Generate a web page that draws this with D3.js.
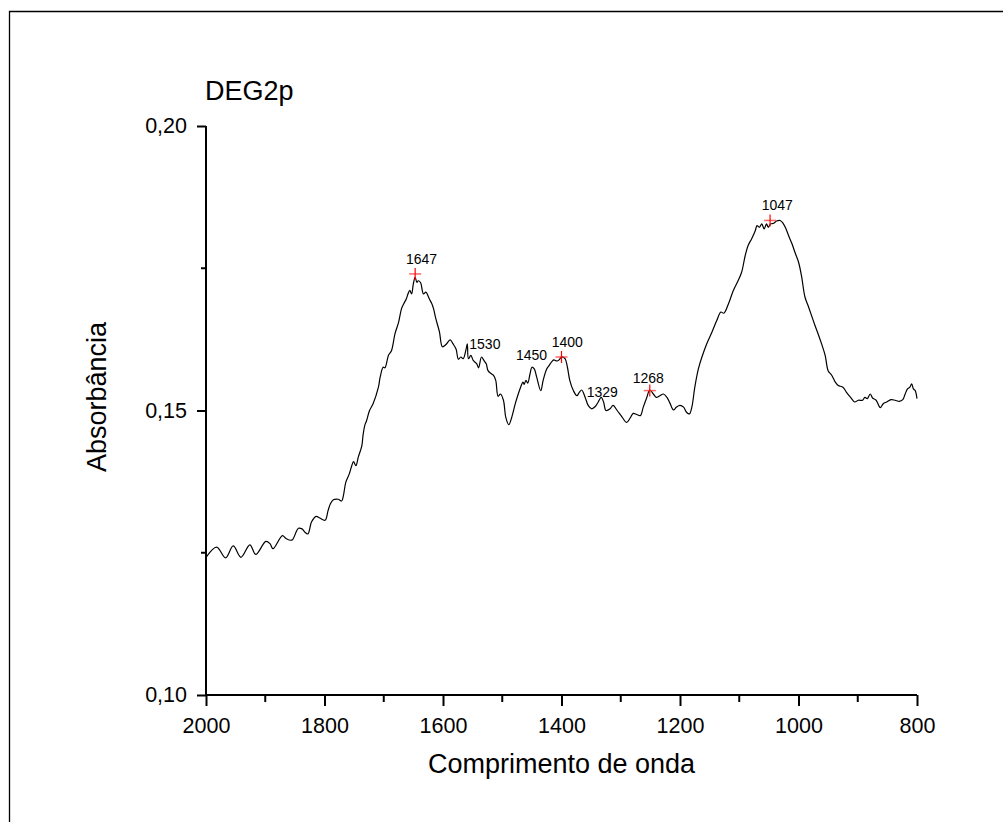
<!DOCTYPE html>
<html>
<head>
<meta charset="utf-8">
<script src="https://cdn.jsdelivr.net/npm/d3@7/dist/d3.min.js"></script>
<style>
  html, body { margin: 0; padding: 0; background: #fff; }
  svg { display: block; font-family: "Liberation Sans", Arial, sans-serif; }
</style>
</head>
<body>
<svg id="chart" width="1003" height="822"></svg>
<script>
// ---- data ----
const title = "DEG2p";
const xTitle = "Comprimento de onda";
const yTitle = "Absorbância";

const wavenumber = [
2000,1982,1967,1954,1941,1926,1916,1899,1892,1887,1871,1865,1858,1854,1844,1838,1833,1828,1822,1814,1808,1799,1794,1790,1785,1777,1771,1768,1764,1758,1754,1751,1747,1743,1737,1735,1732,1729,1724,1718,1709,
1706,1701,1698,1692,1687,1681,1675,1670,1666,1662,1659,1656,1653,1650,1647,1644,1642,1638,1633,1629,1623,1619,1616,1612,1606,1601,1595,1588,1583,1578,1574,1570,1566,1561,1559,1557,1553,1549,1543,1540,1535,1531,1527,1524,1519,1515,1511,1507,1503,1498,1494,1489,1484,1478,1473,1469,1465,1463,1460,1457,1453,1450,1446,
1442,1435,1431,1425,1421,1417,1413,1408,1404,1400,1394,1390,1386,1380,1374,1370,1366,1360,1355,1349,1343,1338,1333,1329,1325,1318,1313,1306,1298,1290,1284,1279,1273,1267,1262,1256,1251,1245,1240,1234,1228,1222,1217,1211,1206,1200,1194,1189,1184,
1180,1175,1169,1163,1155,1146,1138,1131,1126,1118,1110,1102,1096,1090,1085,1079,1073,1070,1066,1062,1058,1054,1051,1047,1042,1037,1031,1026,1021,1017,1011,1006,1000,995,989,983,978,972,967,961,955,950,944,938,933,925,919,912,905,899,892,888,884,879,875,869,862,857,851,844,837,830,824,820,816,812,809,806,803,800
];
const absorbance = [
0.1242,0.1260,0.1241,0.1262,0.1242,0.1264,0.1247,0.1270,0.1266,0.1257,0.1280,0.1275,0.1272,0.1273,0.1293,0.1292,0.1286,0.1283,0.1304,0.1314,0.1311,0.1307,0.1324,0.1336,0.1343,0.1344,0.1341,0.1351,0.1374,0.1389,0.1403,0.1410,0.1403,0.1418,0.1438,0.1456,0.1474,0.1482,0.1500,0.1512,0.1541,
0.1559,0.1576,0.1575,0.1597,0.1605,0.1635,0.1655,0.1679,0.1688,0.1696,0.1705,0.1711,0.1705,0.1723,0.1734,0.1725,0.1728,0.1725,0.1705,0.1708,0.1696,0.1688,0.1679,0.1661,0.1638,0.1612,0.1616,0.1624,0.1617,0.1608,0.1590,0.1594,0.1591,0.1608,0.1617,0.1591,0.1597,0.1588,0.1582,0.1575,0.1594,0.1588,0.1582,0.1570,0.1565,0.1562,0.1553,0.1525,0.1529,0.1518,0.1488,0.1475,0.1488,0.1512,0.1529,0.1541,0.1550,0.1546,0.1553,0.1548,0.1565,0.1576,0.1573,
0.1559,0.1535,0.1553,0.1573,0.1579,0.1585,0.1589,0.1587,0.1589,0.1594,0.1591,0.1576,0.1553,0.1535,0.1526,0.1532,0.1536,0.1523,0.1509,0.1503,0.1507,0.1515,0.1523,0.1515,0.1500,0.1503,0.1509,0.1500,0.1489,0.1479,0.1487,0.1495,0.1493,0.1491,0.1506,0.1523,0.1536,0.1529,0.1523,0.1526,0.1529,0.1523,0.1513,0.1501,0.1506,0.1509,0.1506,0.1497,0.1494,
0.1506,0.1541,0.1573,0.1594,0.1617,0.1638,0.1658,0.1673,0.1671,0.1688,0.1711,0.1728,0.1743,0.1772,0.1790,0.1802,0.1816,0.1825,0.1822,0.1828,0.1819,0.1828,0.1822,0.1828,0.1829,0.1833,0.1834,0.1829,0.1819,0.1808,0.1793,0.1778,0.1761,0.1737,0.1699,0.1682,0.1667,0.1649,0.1635,0.1617,0.1597,0.1570,0.1562,0.1550,0.1544,0.1541,0.1532,0.1523,0.1515,0.1518,0.1518,0.1523,0.1521,0.1529,0.1522,0.1518,0.1505,0.1512,0.1515,0.1519,0.1518,0.1516,0.1519,0.1529,0.1538,0.1541,0.1547,0.1538,0.1535,0.1521
];

// peak markers (red crosses)
const markerWn  = [1647, 1400, 1251, 1048];
const markerAbs = [0.1740, 0.1594, 0.1535, 0.1834];

// peak annotation labels (text start, baseline in data coords)
const labelText = ["1647", "1530", "1450", "1400", "1329", "1268", "1047"];
const labelWn   = [1662.4, 1555.6, 1476.8, 1416.5, 1357.5, 1279.8, 1062.1];
const labelAbs  = [0.17566, 0.16084, 0.15879, 0.16116, 0.15234, 0.15480, 0.18515];

const xDomain = [2000, 800];
const yDomain = [0.10, 0.20];
const xMajorTicks = [2000, 1800, 1600, 1400, 1200, 1000, 800];
const xMinorTicks = [1900, 1700, 1500, 1300, 1100, 900];
const yMajorTicks = [0.10, 0.15, 0.20];
const yMinorTicks = [0.125, 0.175];

// ---- layout ----
(function () {
const svg = d3.select("#chart");
const pLeft = 206, pRight = 917, pTop = 126, pBottom = 695;

const x = d3.scaleLinear().domain(xDomain).range([pLeft, pRight]);
const y = d3.scaleLinear().domain(yDomain).range([pBottom, pTop]);

// outer frame (right & bottom edges fall outside the picture)
svg.append("path")
  .attr("d", "M9.5,830 V11.5 H1010")
  .attr("fill", "none").attr("stroke", "#000").attr("stroke-width", 1.3);

const fmt = v => d3.format(".2f")(v).replace(".", ",");
const FF = "Liberation Sans, Arial, sans-serif";

// X axis
const gx = svg.append("g").attr("transform", `translate(0,${pBottom})`);
gx.call(d3.axisBottom(x).tickValues(xMajorTicks).tickSize(11).tickPadding(12).tickFormat(d3.format("d")))
  .call(g => g.select(".domain").attr("stroke-width", 2).attr("d", `M${pLeft},0H${pRight}`))
  .call(g => g.selectAll(".tick line").attr("stroke-width", 2))
  .call(g => g.selectAll(".tick text").attr("font-size", 21.5).attr("fill", "#000").attr("font-family", FF));
gx.selectAll(".minor").data(xMinorTicks).enter().append("line")
  .attr("class", "minor")
  .attr("x1", d => x(d)).attr("x2", d => x(d))
  .attr("y1", 0).attr("y2", 7)
  .attr("stroke", "#000").attr("stroke-width", 2);

// Y axis
const gy = svg.append("g").attr("transform", `translate(${pLeft},0)`);
gy.call(d3.axisLeft(y).tickValues(yMajorTicks).tickSize(9).tickPadding(10).tickFormat(fmt))
  .call(g => g.select(".domain").attr("stroke-width", 2).attr("d", `M0,${pBottom}V${pTop}`))
  .call(g => g.selectAll(".tick line").attr("stroke-width", 2))
  .call(g => g.selectAll(".tick text").attr("font-size", 21.5).attr("fill", "#000").attr("font-family", FF));
gy.selectAll(".minor").data(yMinorTicks).enter().append("line")
  .attr("class", "minor")
  .attr("x1", 0).attr("x2", -5)
  .attr("y1", d => y(d)).attr("y2", d => y(d))
  .attr("stroke", "#000").attr("stroke-width", 2);

// Titles
svg.append("text").attr("x", pLeft - 1).attr("y", 100)
  .attr("font-size", 27).attr("fill", "#000").text(title);
svg.append("text").attr("x", (pLeft + pRight) / 2).attr("y", 773)
  .attr("text-anchor", "middle").attr("font-size", 27).attr("fill", "#000").text(xTitle);
svg.append("text").attr("transform", "translate(106,397) rotate(-90)")
  .attr("text-anchor", "middle").attr("font-size", 27).attr("fill", "#000").text(yTitle);

// Spectrum line
const n = Math.min(wavenumber.length, absorbance.length);
const pts = d3.range(n).map(i => [wavenumber[i], absorbance[i]]);
const line = d3.line().x(d => x(d[0])).y(d => y(d[1])).curve(d3.curveCatmullRom.alpha(0.5));
svg.append("path").datum(pts).attr("d", line)
  .attr("fill", "none").attr("stroke", "#000").attr("stroke-width", 1.2);

// Markers
const mk = markerWn.map((w, i) => [w, markerAbs[i]]);
const gm = svg.append("g");
gm.selectAll(".mh").data(mk).enter().append("line")
  .attr("x1", d => x(d[0]) - 6).attr("x2", d => x(d[0]) + 6)
  .attr("y1", d => y(d[1])).attr("y2", d => y(d[1]))
  .attr("stroke", "#f33").attr("stroke-opacity", 0.75).attr("stroke-width", 1.5);
gm.selectAll(".mv").data(mk).enter().append("line")
  .attr("x1", d => x(d[0])).attr("x2", d => x(d[0]))
  .attr("y1", d => y(d[1]) - 6).attr("y2", d => y(d[1]) + 6)
  .attr("stroke", "#f00").attr("stroke-width", 1.2);

// Labels
svg.append("g").selectAll("text").data(labelText).enter().append("text")
  .attr("x", (d, i) => x(labelWn[i])).attr("y", (d, i) => y(labelAbs[i]))
  .attr("font-size", 14).attr("fill", "#000").text(d => d);
})();
</script>
</body>
</html>
